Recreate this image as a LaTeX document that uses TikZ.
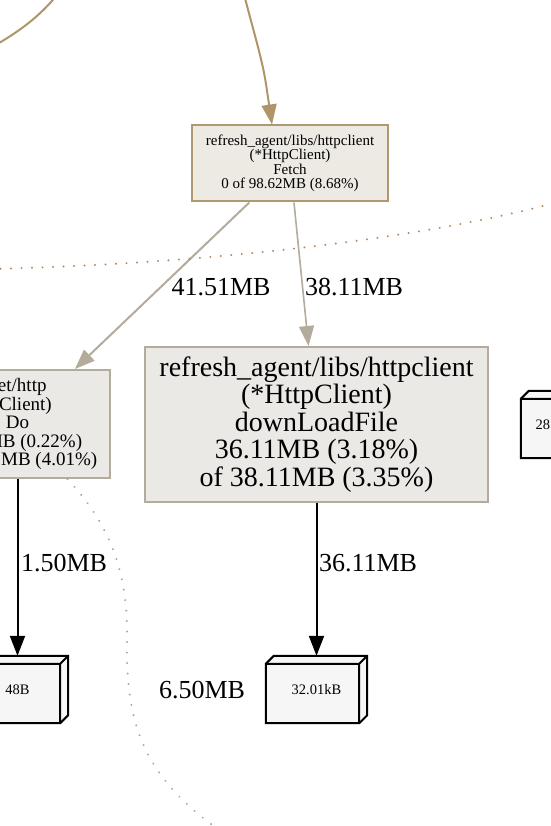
\documentclass[tikz,border=0pt]{standalone}
\usepackage{fontspec}
\setmainfont{Liberation Serif}
\usetikzlibrary{
  arrows.meta,
  backgrounds,
}
\definecolor{callbrown}{HTML}{B0956A}
\definecolor{fetchedge}{HTML}{B09870}
\definecolor{fetchfill}{HTML}{EDE9E3}
\definecolor{greyedge}{HTML}{B3AB9C}
\definecolor{fnfill}{HTML}{EBE9E6}
\definecolor{dotbrown}{HTML}{B4875C}
\definecolor{dotgrey}{HTML}{A6A6A6}
\definecolor{blkfill}{HTML}{F6F6F6}
\newcommand{\fsz}[2]{\fontsize{#1}{#2}\selectfont}
\tikzset{
  pprof/.style={
    x=1pt, y=-1pt,
    line join=miter,
  },
  fnbox/.style={
    draw=#1,
    line width=2pt,
    align=center,
    inner sep=0pt,
    text=black,
  },
  memblk/.style={
    minimum width=101pt,
    minimum height=67pt,
    inner sep=0pt,
    font=\fsz{14.5}{15},
  },
  memline/.style={
    draw=black,
    fill=blkfill,
    line width=2pt,
  },
  call/.style={
    -{Triangle[length=20pt, width=15pt]},
    line width=#1,
  },
  elab/.style={
    font=\fsz{26}{28},
    inner sep=0pt,
  },
  hiddencall/.style={
    line width=2.2pt,
    line cap=round,
    dash pattern=on 0.01pt off 10.5pt,
  },
}

\begin{document}
\begin{tikzpicture}[pprof]
  \path[use as bounding box] (0,0) rectangle (550,826);
  \clip (0,0) rectangle (550,826);

  \newcommand{\memblock}[4]{% name, x, y, size
    \node[memblk] (#1) at (#2,#3) {#4};
    \begin{scope}[on background layer]
      \filldraw[memline]
        (#1.south west) -- ([yshift=-8pt]#1.north west)
        -- ([xshift=8pt]#1.north west) -- (#1.north east)
        -- ([yshift=8pt]#1.south east) -- ([xshift=-8pt]#1.south east) -- cycle;
      \draw[memline, fill=none]
        ([yshift=-8pt]#1.north west) -- ([xshift=-8pt,yshift=-8pt]#1.north east)
        -- (#1.north east)
        ([xshift=-8pt,yshift=-8pt]#1.north east) -- ([xshift=-8pt]#1.south east);
    \end{scope}
  }

  % functions
  \node[fnbox=fetchedge, fill=fetchfill, minimum width=196pt, minimum height=76pt,
        font=\fsz{15}{14.5}] (fetch) at (290,163.5)
    {refresh\_agent/libs/httpclient\\(*HttpClient)\\Fetch\\0 of 98.62MB (8.68\%)};

  \node[fnbox=greyedge, fill=fnfill, minimum width=343pt, minimum height=155pt,
        font=\fsz{28}{27.5}] (dlfile) at (316.5,424.5)
    {refresh\_agent/libs/httpclient\\(*HttpClient)\\downLoadFile\\36.11MB (3.18\%)\\of 38.11MB (3.35\%)};

  \node[fnbox=greyedge, fill=fnfill, minimum width=185pt, minimum height=108pt,
        font=\fsz{19}{18.5}] (httpdo) at (17.5,424)
    {net/http\\(*Client)\\Do\\2.50MB (0.22\%)\\of 45.51MB (4.01\%)};

  % allocation blocks
  \memblock{blk48}{17.5}{689.5}{48B}
  \memblock{blk32k}{316.5}{689.5}{32.01kB}
  \memblock{blk28k}{571.5}{424.5}{28.02kB\kern22pt}

  % calls
  \coordinate (caller) at (244,-6);
  \draw[call=2pt, draw=callbrown]
    (caller) .. controls (253,30) and (262,58) .. (266,84)
    -- ([xshift=-18pt]fetch.north);
  \draw[line width=2pt, draw=callbrown]
    (-6,46) .. controls (20,31) and (40,16) .. (57,-5);

  \draw[call=2pt, draw=greyedge] (fetch) -- (httpdo);
  \draw[call=1.6pt, draw=greyedge] (fetch) -- (dlfile);
  \draw[call=2pt, draw=black] (dlfile) -- (blk32k);
  \draw[call=2pt, draw=black] (httpdo) -- (blk48);

  \draw[hiddencall, draw=dotbrown]
    (-10,269) .. controls (200,264) and (420,240) .. (562,201);
  \draw[hiddencall, draw=dotgrey]
    ([xshift=50pt]httpdo.south) .. controls (115,530) and (128,580) .. (127,640)
    .. controls (126,720) and (140,775) .. (222,832);

  % edge labels
  \node[elab] (l4151) at (221,287) {41.51MB};
  \node[elab] (l3811) at (354,287) {38.11MB};
  \node[elab] (l3611) at (368,563) {36.11MB};
  \node[elab] (l150) at (64,563) {1.50MB};
  \node[elab] (l650) at (202,690) {6.50MB};
\end{tikzpicture}
\end{document}
